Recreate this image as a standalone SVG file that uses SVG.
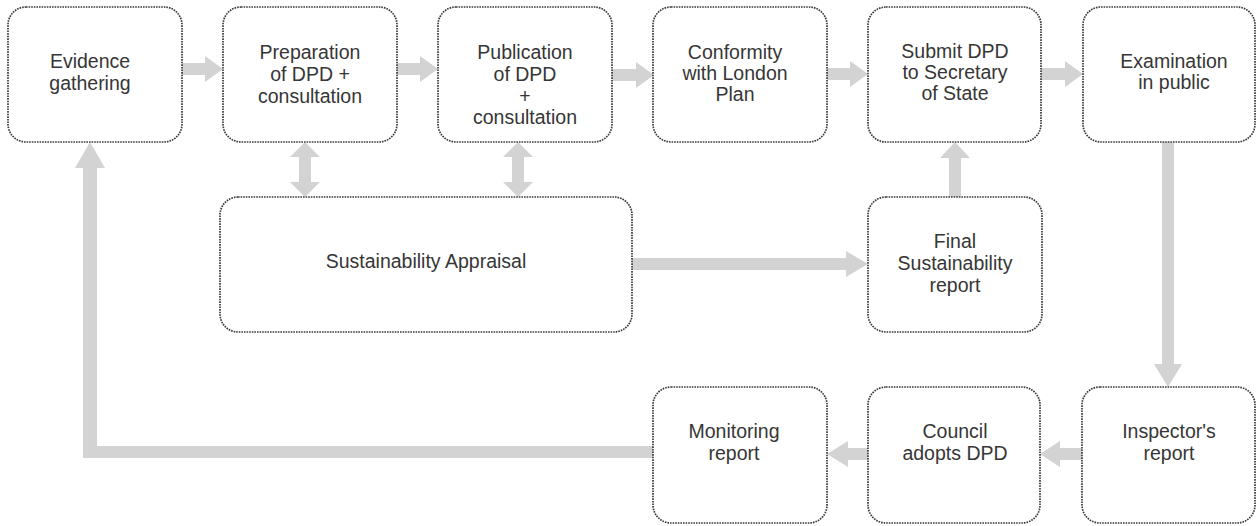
<svg xmlns="http://www.w3.org/2000/svg" width="1257" height="526" viewBox="0 0 1257 526">
<style>
.box{fill:#ffffff;stroke:#3a3a3a;stroke-width:1.7;stroke-dasharray:1.6 1}
.lbl{font-family:"Liberation Sans",Arial,sans-serif;font-size:19.5px;fill:#363636;text-anchor:middle}
.arr{fill:#d3d3d3;stroke:none}
</style>
<rect width="1257" height="526" fill="#ffffff"/>
<g id="connectors">
<polygon class="arr" points="182,63 205,63 205,56 223,69 205,82 205,75 182,75"/>
<polygon class="arr" points="397,63 420,63 420,56 438,69 420,82 420,75 397,75"/>
<polygon class="arr" points="612,69 636,69 636,62 654,75 636,88 636,81 612,81"/>
<polygon class="arr" points="827,68 850,68 850,61 868,74 850,87 850,80 827,80"/>
<polygon class="arr" points="1041,68 1065,68 1065,61 1083,74 1065,87 1065,80 1041,80"/>
<polygon class="arr" points="305,142 320,157 311,157 311,182 320,182 305,197 290,182 299,182 299,157 290,157"/>
<polygon class="arr" points="518,142 533,157 524,157 524,182 533,182 518,197 503,182 512,182 512,157 503,157"/>
<polygon class="arr" points="632,258 846,258 846,251 868,264 846,277 846,270 632,270"/>
<polygon class="arr" points="955,142 970,158 961,158 961,197 949,197 949,158 940,158"/>
<polygon class="arr" points="1162,142 1174,142 1174,364 1182,364 1168,387 1154,364 1162,364"/>
<polygon class="arr" points="1082,448 1060,448 1060,441 1040,454 1060,467 1060,460 1082,460"/>
<polygon class="arr" points="868,448 848,448 848,441 827,454 848,467 848,460 868,460"/>
<polygon class="arr" points="653,446 97,446 97,168 105,168 90,142 75,168 83,168 83,458 653,458"/>
</g>
<g id="evidence">
<rect class="box" x="8" y="7" width="174" height="135" rx="18"/>
<text class="lbl" x="90" y="68">Evidence</text>
<text class="lbl" x="90" y="90">gathering</text>
</g>
<g id="preparation">
<rect class="box" x="223" y="7" width="174" height="135" rx="18"/>
<text class="lbl" x="310" y="59">Preparation</text>
<text class="lbl" x="310" y="81">of DPD +</text>
<text class="lbl" x="310" y="103">consultation</text>
</g>
<g id="publication">
<rect class="box" x="438" y="7" width="174" height="135" rx="18"/>
<text class="lbl" x="525" y="59">Publication</text>
<text class="lbl" x="525" y="81">of DPD</text>
<text class="lbl" x="525" y="103">+</text>
<text class="lbl" x="525" y="124">consultation</text>
</g>
<g id="conformity">
<rect class="box" x="653" y="7" width="174" height="135" rx="18"/>
<text class="lbl" x="735" y="59">Conformity</text>
<text class="lbl" x="735" y="80">with London</text>
<text class="lbl" x="735" y="101">Plan</text>
</g>
<g id="submit">
<rect class="box" x="868" y="7" width="173" height="135" rx="18"/>
<text class="lbl" x="955" y="58">Submit DPD</text>
<text class="lbl" x="955" y="79">to Secretary</text>
<text class="lbl" x="955" y="100">of State</text>
</g>
<g id="examination">
<rect class="box" x="1083" y="7" width="172" height="135" rx="18"/>
<text class="lbl" x="1174" y="68">Examination</text>
<text class="lbl" x="1174" y="89">in public</text>
</g>
<g id="sustainability-appraisal">
<rect class="box" x="220" y="197" width="412" height="135" rx="18"/>
<text class="lbl" x="426" y="268">Sustainability Appraisal</text>
</g>
<g id="final-sustainability">
<rect class="box" x="868" y="197" width="174" height="135" rx="18"/>
<text class="lbl" x="955" y="248">Final</text>
<text class="lbl" x="955" y="270">Sustainability</text>
<text class="lbl" x="955" y="292">report</text>
</g>
<g id="monitoring">
<rect class="box" x="653" y="387" width="174" height="136" rx="18"/>
<text class="lbl" x="734" y="438">Monitoring</text>
<text class="lbl" x="734" y="460">report</text>
</g>
<g id="council">
<rect class="box" x="868" y="387" width="172" height="136" rx="18"/>
<text class="lbl" x="955" y="438">Council</text>
<text class="lbl" x="955" y="460">adopts DPD</text>
</g>
<g id="inspector">
<rect class="box" x="1082" y="387" width="173" height="136" rx="18"/>
<text class="lbl" x="1169" y="438">Inspector's</text>
<text class="lbl" x="1169" y="460">report</text>
</g>
</svg>
